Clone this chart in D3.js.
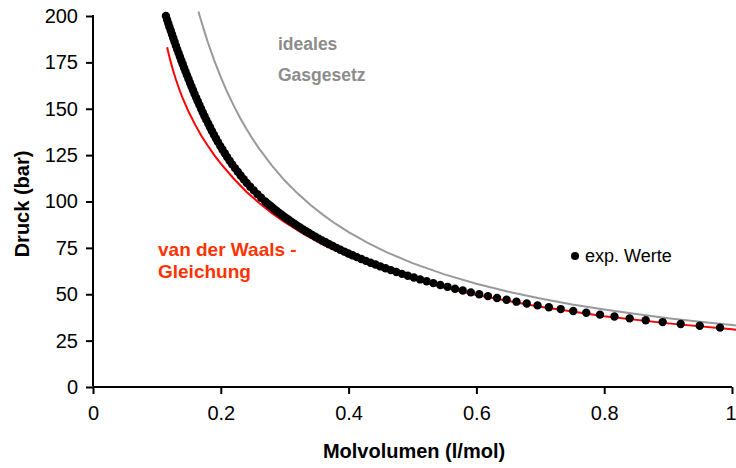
<!DOCTYPE html>
<html><head><meta charset="utf-8">
<script src="https://cdn.jsdelivr.net/npm/d3@7"></script>
<style>body{margin:0;background:#fff}svg{display:block}text{font-family:Arial,"Liberation Sans",sans-serif}</style>
</head><body>
<script>
// experimental values: [molar volume l/mol, pressure bar]
const expV = [0.9813,0.9495,0.9197,0.8915,0.8649,0.8398,0.8160,0.7934,0.7719,0.7515,0.7320,0.7134,0.6957,0.6788,0.6627,0.6472,0.6323,0.6181,0.6044,0.5913,0.5786,0.5665,0.5548,0.5435,0.5326,0.5221,0.5120,0.5022,0.4927,0.4836,0.4747,0.4661,0.4578,0.4498,0.4420,0.4344,0.4270,0.4199,0.4130,0.4062,0.3997,0.3933,0.3871,0.3811,0.3752,0.3695,0.3639,0.3584,0.3531,0.3480,0.3429,0.3380,0.3332,0.3285,0.3239,0.3194,0.3151,0.3108,0.3066,0.3025,0.2985,0.2946,0.2908,0.2870,0.2834,0.2798,0.2762,0.2728,0.2694,
0.2632,0.2572,0.2515,0.2460,0.2406,0.2358,0.2310,0.2265,0.2221,0.2178,0.2138,0.2099,0.2062,0.2025,0.1990,0.1956,0.1924,0.1892,0.1861,0.1831,0.1802,0.1773,0.1745,0.1718,0.1691,0.1665,0.1639,0.1614,0.1589,0.1565,0.1541,0.1517,0.1494,0.1471,0.1449,0.1426,0.1404,0.1382,0.1360,0.1339,0.1318,0.1297,0.1277,0.1257,0.1237,0.1217,0.1197,0.1178,0.1159,0.1141];
const expP = [32,33,34,35,36,37,38,39,40,41,42,43,44,45,46,47,48,49,50,51,52,53,54,55,56,57,58,59,60,61,62,63,64,65,66,67,68,69,70,71,72,73,74,75,76,77,78,79,80,81,82,83,84,85,86,87,88,89,90,91,92,93,94,95,96,97,98,99,100,
102,104,106,108,110,112,114,116,118,120,122,124,126,128,130,132,134,136,138,140,142,144,146,148,150,152,154,156,158,160,162,164,166,168,170,172,174,176,178,180,182,184,186,188,190,192,194,196,198,200];

// ideal gas law curve
const idealV = [0.165,0.167,0.175,0.18,0.19,0.2,0.21,0.22,0.23,0.24,0.25,0.26,0.28,0.3,0.32,0.34,0.36,0.38,0.4,0.43,0.46,0.5,0.55,0.6,0.65,0.7,0.75,0.8,0.85,0.9,0.95,1.0,1.01];
const idealP = [202.4,200.0,190.9,185.6,175.8,167.0,159.0,151.8,145.2,139.2,133.6,128.5,119.3,111.3,104.4,98.2,92.8,87.9,83.5,77.7,72.6,66.8,60.7,55.7,51.4,47.7,44.5,41.8,39.3,37.1,35.2,33.4,33.1];

// van der Waals curve
const vdwV = [0.116,0.12,0.125,0.13,0.135,0.14,0.15,0.16,0.17,0.18,0.19,0.2,0.22,0.24,0.26,0.28,0.3,0.33,0.36,0.4,0.45,0.5,0.55,0.6,0.7,0.8,0.9,1.0,1.01];
const vdwP = [183.1,177.3,171.0,165.5,160.5,156.0,148.1,141.3,135.2,129.9,124.9,120.4,112.4,105.3,99.2,93.7,88.8,82.4,76.7,70.3,63.7,58.2,53.5,49.6,43.2,38.2,34.3,31.1,30.8];

const xTicks = [0,0.2,0.4,0.6,0.8,1];
const xTickLabels = ["0","0.2","0.4","0.6","0.8","1"];
const yTicks = [0,25,50,75,100,125,150,175,200];

const W = 736, H = 468;
const svg = d3.select("body").append("svg").attr("width", W).attr("height", H);
const x = d3.scaleLinear().domain([0,1]).range([93,732]);
const y = d3.scaleLinear().domain([0,200]).range([387,16]);

svg.append("clipPath").attr("id","clip").append("rect")
  .attr("x",93).attr("y",11).attr("width",W-93).attr("height",380);

const line = d3.line().x(d=>x(d[0])).y(d=>y(d[1]));
const g = svg.append("g").attr("clip-path","url(#clip)");

g.append("path").datum(idealV.map((v,i)=>[v,idealP[i]]))
  .attr("d",line).attr("fill","none").attr("stroke","#999999").attr("stroke-width",2);
g.append("path").datum(vdwV.map((v,i)=>[v,vdwP[i]]))
  .attr("d",line).attr("fill","none").attr("stroke","#ff0000").attr("stroke-width",2);
g.selectAll("circle.exp").data(expV.map((v,i)=>[v,expP[i]])).enter().append("circle")
  .attr("class","exp").attr("cx",d=>x(d[0])).attr("cy",d=>y(d[1])).attr("r",4.2).attr("fill","#000");

// axes
const xAxis = d3.axisBottom(x).tickValues(xTicks).tickFormat((d,i)=>xTickLabels[i]).tickSize(7).tickSizeOuter(0).tickPadding(12);
const yAxis = d3.axisLeft(y).tickValues(yTicks).tickSize(7).tickSizeOuter(0).tickPadding(8);
const gx = svg.append("g").attr("transform","translate(0,387)").call(xAxis);
const gy = svg.append("g").attr("transform","translate(93,0)").call(yAxis);
[gx,gy].forEach(a=>{
  a.selectAll("path.domain").attr("stroke","#000").attr("stroke-width",2);
  a.selectAll(".tick line").attr("stroke","#000").attr("stroke-width",2);
  a.selectAll(".tick text").attr("fill","#000").style("font-size","20px").style("font-family","Arial, 'Liberation Sans', sans-serif");
});
gx.selectAll(".tick text").filter(d=>d===1).attr("text-anchor","end").attr("x",4);
gy.select("path.domain").attr("d","M0,386.5V15");
gx.select("path.domain").attr("d","M93,0H732");

// axis titles
svg.append("text").attr("x",414).attr("y",458).attr("text-anchor","middle")
  .style("font-size","20px").style("font-weight","bold").text("Molvolumen (l/mol)");
svg.append("text").attr("transform","translate(29,204) rotate(-90)").attr("text-anchor","middle")
  .style("font-size","20px").style("font-weight","bold").text("Druck (bar)");

// annotations
svg.append("text").attr("x",278).attr("y",50).attr("fill","#8c8c8c").style("font-size","17.5px").style("font-weight","bold").text("ideales");
svg.append("text").attr("x",278).attr("y",81).attr("fill","#8c8c8c").style("font-size","17.5px").style("font-weight","bold").text("Gasgesetz");
svg.append("text").attr("x",158).attr("y",256).attr("fill","#ff3300").style("font-size","19px").style("font-weight","bold").text("van der Waals -");
svg.append("text").attr("x",158).attr("y",278).attr("fill","#ff3300").style("font-size","19px").style("font-weight","bold").text("Gleichung");

// legend
svg.append("circle").attr("cx",575).attr("cy",256).attr("r",4).attr("fill","#000");
svg.append("text").attr("x",585).attr("y",262).attr("fill","#000").style("font-size","18px").text("exp. Werte");
</script>
</body></html>
